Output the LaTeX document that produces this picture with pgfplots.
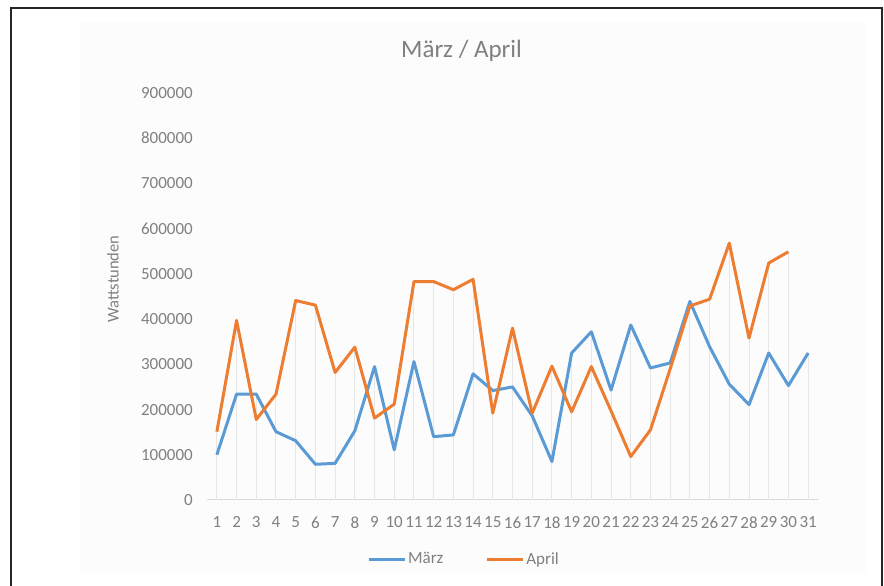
\documentclass[border=0pt]{standalone}
\usepackage{pgfplots}
\pgfplotsset{compat=1.18}
\usepackage{fontspec}
\setmainfont{Carlito}
\definecolor{mblue}{HTML}{5B9BD5}
\definecolor{aorange}{HTML}{ED7D31}
\definecolor{txtgray}{HTML}{808080}
\definecolor{dropgray}{HTML}{E6E6E6}
\begin{document}
\begin{tikzpicture}[x=1pt,y=1pt]
\useasboundingbox (0,0) rectangle (884,586);
\fill[white] (0,0) rectangle (884,586);
\fill[black!1] (80,14) rectangle (866,564);
\draw[black!85, line width=1.5pt] (11,-2) -- (11,578) -- (882,578) -- (882,-2);
\node[font=\fontsize{25pt}{28pt}\selectfont, text=txtgray] at (461.5,535) {März / April};
\begin{axis}[
  at={(207pt,86pt)}, anchor=south west,
  scale only axis, width=611pt, height=407pt,
  xmin=0.5, xmax=31.5, ymin=0, ymax=900000,
  xtick={1,...,31}, ytick={0,100000,...,900000},
  scaled y ticks=false,
  /pgf/number format/.cd, fixed, 1000 sep={}, assume math mode=true, /pgfplots/.cd,
  major tick length=0pt,
  axis x line*=bottom, axis y line*=left,
  x axis line style={draw=black!15, line width=1pt, -},
  y axis line style={draw=none},
  tick label style={font=\fontsize{17pt}{20pt}\selectfont, text=txtgray},
  yticklabel style={anchor=east, inner sep=0pt, xshift=-14pt},
  xticklabel style={anchor=north, inner sep=0pt, yshift=-16.5pt},
  ylabel={Wattstunden},
  ylabel style={font=\fontsize{16.5pt}{19pt}\selectfont, text=txtgray, at={(axis description cs:-0.154,0.543)}, anchor=center, rotate=0},
  legend style={at={(axis description cs:0.4206,-0.145)}, anchor=center, draw=none, fill=none, legend columns=2,
    font=\fontsize{17pt}{20pt}\selectfont, text=txtgray,
    /tikz/every even column/.append style={column sep=40pt}},
  legend image code/.code={\draw[#1] (0pt,0pt) -- (36pt,0pt);},
  legend cell align=left,
  clip=false,
]
\addplot[ycomb, draw=dropgray, line width=1pt, forget plot] coordinates {
(1,151000) (2,397000) (3,234000) (4,234000) (5,441000) (6,431000) (7,282000) (8,338000)
(9,295000) (10,212000) (11,483000) (12,483000) (13,465000) (14,488000) (15,243000) (16,380000)
(17,192000) (18,296000) (19,325000) (20,372000) (21,243000) (22,387000) (23,292000) (24,303000)
(25,439000) (26,444000) (27,568000) (28,358000) (29,524000) (30,549000) (31,325000)};
\addplot[mblue, line width=3pt, line join=round] coordinates {
(1,100000) (2,234000) (3,234000) (4,151000) (5,131000) (6,79000) (7,81000) (8,153000)
(9,295000) (10,111000) (11,306000) (12,140000) (13,144000) (14,279000) (15,242000) (16,250000)
(17,186000) (18,85000) (19,325000) (20,372000) (21,243000) (22,387000) (23,292000) (24,303000)
(25,439000) (26,339000) (27,256000) (28,211000) (29,325000) (30,253000) (31,325000)};
\addlegendentry{März}
\addplot[aorange, line width=3pt, line join=round] coordinates {
(1,151000) (2,397000) (3,178000) (4,234000) (5,441000) (6,431000) (7,282000) (8,338000)
(9,181000) (10,212000) (11,483000) (12,483000) (13,465000) (14,488000) (15,192000) (16,380000)
(17,192000) (18,296000) (19,195000) (20,295000) (21,197000) (22,96000) (23,155000) (24,290000)
(25,429000) (26,444000) (27,568000) (28,358000) (29,524000) (30,549000)};
\addlegendentry{April}
\end{axis}
\end{tikzpicture}
\end{document}
